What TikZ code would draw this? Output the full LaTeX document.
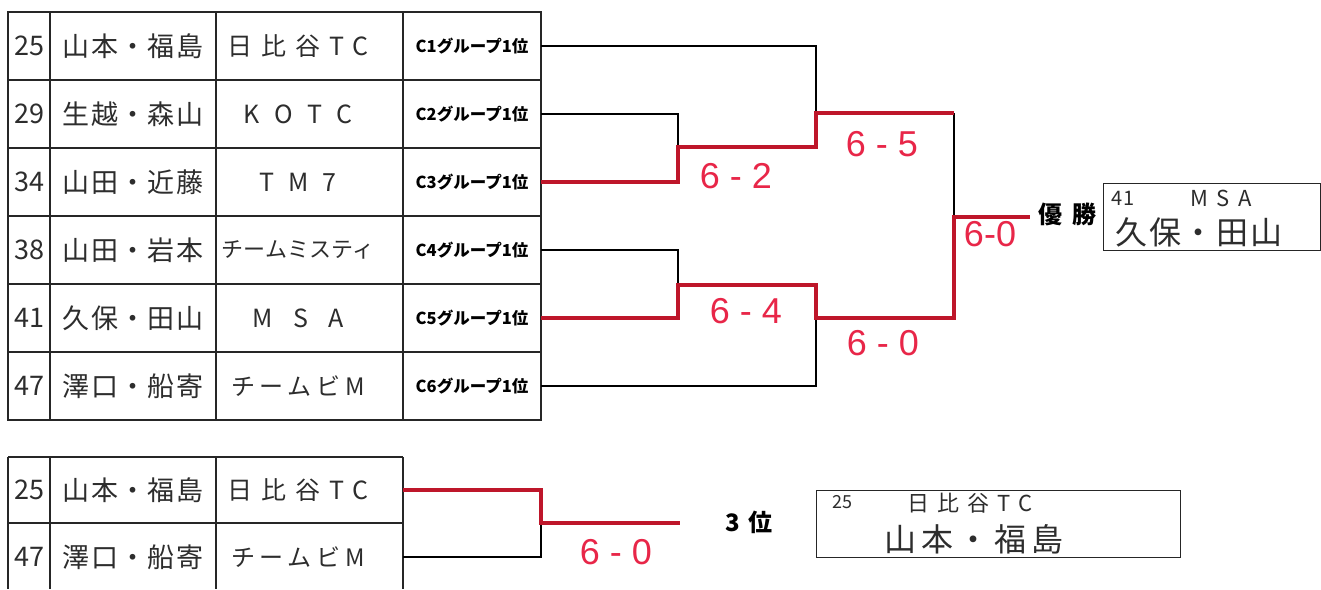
\documentclass[tikz,border=0pt]{standalone}
\usepackage{fontspec}
\newfontfamily\jpfont{Noto Sans CJK JP}
\newfontfamily\scorefont{Liberation Sans}
\definecolor{ink}{RGB}{45,45,45}
\definecolor{winred}{RGB}{190,22,42}
\definecolor{scorered}{RGB}{232,38,72}
\tikzset{
  hand/.style={text=ink, inner sep=0pt},
  grp/.style={font=\jpfont\bfseries\fontsize{16.5}{16.5}\selectfont, minimum width=138pt, minimum height=68pt, inner sep=0pt},
  tbl/.style={line width=1.2pt, draw=black!85},
  ln/.style={line width=1.3pt, black},
  win/.style={line width=3.2pt, winred},
  score/.style={font=\scorefont\fontsize{36}{36}\selectfont, text=scorered, inner sep=0pt},
  lbl/.style={font=\jpfont\bfseries\fontsize{24}{24}\selectfont, inner sep=0pt},
}
\newcommand\hf[2]{\jpfont\fontsize{#1}{#1}\selectfont\addfontfeature{LetterSpace=#2}}
\begin{document}
\begin{tikzpicture}[x=1pt,y=-1pt]
\useasboundingbox (0,0) rectangle (1321,589);
\fill[white] (0,0) rectangle (1321,589);

% top table grid
\draw[tbl] (8,12) rectangle (541,420);
\foreach \yy in {80,148,216,284,352} \draw[tbl] (8,\yy) -- (541,\yy);
\foreach \xx in {50,216,403} \draw[tbl] (\xx,12) -- (\xx,420);

\foreach \i/\nn/\nm/\tm/\ts/\ls in {1/25/山本・福島/日比谷TC/25/36, 2/29/生越・森山/KOTC/25/60, 3/34/山田・近藤/TM7/25/55, 4/38/山田・岩本/チームミスティ/22/0, 5/41/久保・田山/MSA/25/80, 6/47/澤口・船寄/チームビM/24/20}
{
  \pgfmathsetmacro\yy{46+68*(\i-1)}
  \node[hand, font=\hf{27}{0}] (n\i) at (29,\yy) {\nn};
  \node[hand, font=\hf{27}{5}] (p\i) at (133,\yy) {\nm};
  \node[hand, font=\hf{\ts}{\ls}] (t\i) at (298,\yy) {\tm};
  \node[grp] (g\i) at (472,\yy) {C{\i}グループ1位};
}

% bottom table grid
\draw[tbl] (8,457) -- (403,457);
\draw[tbl] (8,523) -- (403,523);
\foreach \xx in {8,50,216,403} \draw[tbl] (\xx,457) -- (\xx,589);
\node[hand, font=\hf{27}{0}] (bn1) at (29,490) {25};
\node[hand, font=\hf{27}{5}] (bp1) at (133,490) {山本・福島};
\node[hand, font=\hf{25}{36}] (bt1) at (298,490) {日比谷TC};
\node[hand, font=\hf{27}{0}] (bn2) at (29,557) {47};
\node[hand, font=\hf{27}{5}] (bp2) at (133,557) {澤口・船寄};
\node[hand, font=\hf{24}{20}] (bt2) at (298,557) {チームビM};

% bracket coordinates
\coordinate (q1) at (678,147);
\coordinate (s1) at (816,147);
\coordinate (so1) at (816,113);
\coordinate (f1) at (954,113);
\coordinate (q2) at (678,285);
\coordinate (s2) at (816,285);
\coordinate (so2) at (816,318);
\coordinate (f2) at (954,318);
\coordinate (fo) at (954,217);
\coordinate (champ) at (1030,217);
\coordinate (x1) at (403,490);
\coordinate (x2) at (403,557);
\coordinate (tj) at (541,523);
\coordinate (tw) at (680,523);

% black bracket
\draw[ln] (g2.east) -| (q1) |- (g3.east);
\draw[ln] (q1) -- (s1);
\draw[ln] (g1.east) -| (s1);
\draw[ln] (so1) -- (f1);
\draw[ln] (g4.east) -| (q2) |- (g5.east);
\draw[ln] (q2) -- (s2);
\draw[ln] (s2) |- (g6.east);
\draw[ln] (so2) -- (f2);
\draw[ln] (f1) -- (f2);
\draw[ln] (fo) -- (champ);
\draw[ln] (x1) -| (tj) |- (x2);
\draw[ln] (tj) -- (tw);

% winner paths
\draw[win] (g3.east) -| (q1) -- (s1) -- (so1) -- (f1);
\draw[win] (g5.east) -| (q2) -- (s2) -- (so2) -- (f2) -- (fo) -- (champ);
\draw[win] (x1) -| (tj) -- (tw);

% scores
\node[score] (s62) at (736,176) {6 - 2};
\node[score] (s65) at (882,144) {6 - 5};
\node[score] (s64) at (746,311) {6 - 4};
\node[score] (s60a) at (883,343) {6 - 0};
\node[score] (s60b) at (990,234) {6-0};
\node[score] (s60c) at (616,552) {6 - 0};

% champion
\node[lbl] (yusho) at (1067,214) {優\hspace{10pt}勝};
\node[draw, tbl, minimum width=217pt, minimum height=67pt, anchor=north west, inner sep=0pt] (champbox) at (1103,183) {};
\node[hand, font=\hf{20}{0}] (cn) at (1123,198) {41};
\node[hand, font=\hf{22}{40}] (ct) at (1221,198) {MSA};
\node[hand, font=\hf{32}{5}] (cp) at (1199,232) {久保・田山};

% third place
\node[lbl] (third) at (749,522) {3\hspace{8pt}位};
\node[draw, tbl, minimum width=364pt, minimum height=67pt, anchor=north west, inner sep=0pt] (thirdbox) at (816,490) {};
\node[hand, font=\hf{18}{0}] (tn) at (842,502) {25};
\node[hand, font=\hf{22}{36}] (tt) at (970,503) {日比谷TC};
\node[hand, font=\hf{32}{15}] (tp) at (974,539) {山本・福島};
\end{tikzpicture}
\end{document}
